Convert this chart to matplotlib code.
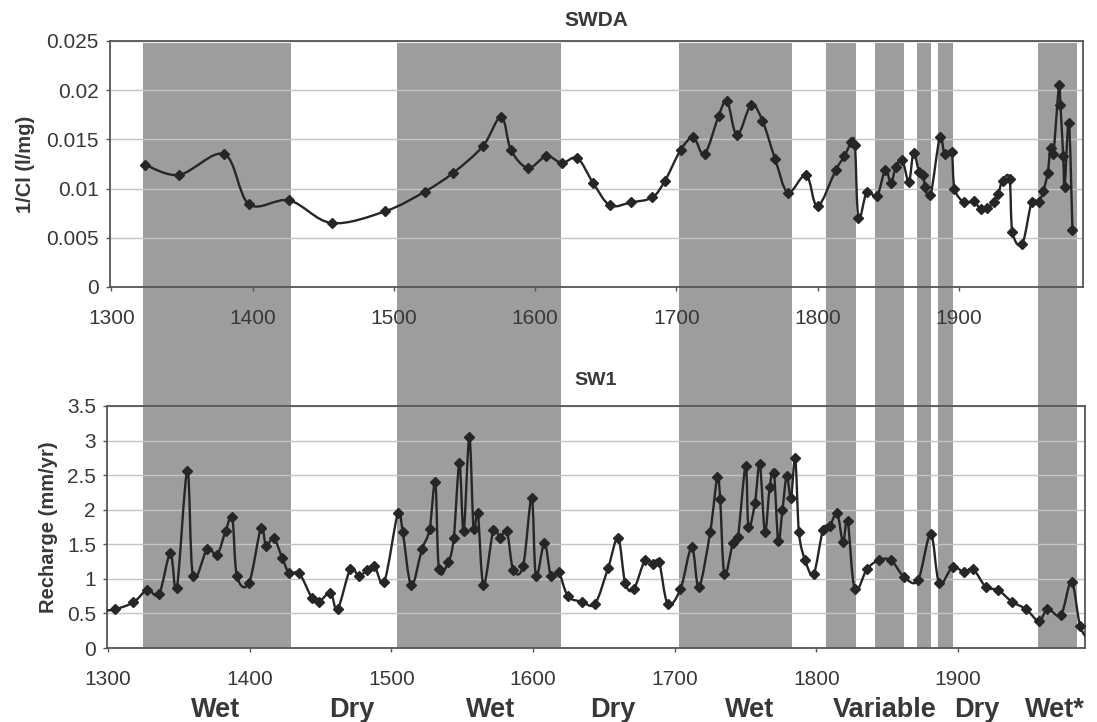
import numpy as np
import matplotlib
matplotlib.use("Agg")
import matplotlib.pyplot as plt
from matplotlib.path import Path
from matplotlib.patches import PathPatch, Rectangle
from matplotlib.transforms import blended_transform_factory
from matplotlib.ticker import FuncFormatter

plt.rcParams["font.family"] = ["Liberation Sans", "DejaVu Sans"]

# ------------------------------------------------------------------
# data
swda_year = [1324, 1348, 1380, 1397.5, 1426, 1456, 1494, 1522, 1542, 1563,
             1576, 1583, 1595, 1608, 1619, 1630, 1641, 1653, 1668, 1683,
             1692, 1703, 1712, 1720, 1730, 1736, 1743, 1753, 1761, 1770,
             1779, 1792, 1800, 1813, 1819, 1824, 1826.5, 1829, 1835, 1842,
             1848, 1852, 1855.5, 1860, 1864.7, 1868, 1872, 1875, 1876, 1880,
             1886.6, 1890, 1895, 1897, 1904, 1910.6, 1915.6, 1920, 1924.7, 1928,
             1931, 1936, 1938, 1945, 1951.6, 1956.5, 1960, 1963, 1965, 1967,
             1971, 1972, 1974, 1975, 1978, 1980.5]
swda_invcl = [0.0124, 0.0114, 0.0135, 0.0084, 0.0088, 0.0065, 0.0077, 0.0097, 0.0116, 0.0143,
              0.0173, 0.0139, 0.0121, 0.0133, 0.0126, 0.0131, 0.0106, 0.0083, 0.0086, 0.0091,
              0.0108, 0.0139, 0.0152, 0.0135, 0.0174, 0.0189, 0.0154, 0.0185, 0.0169, 0.0130,
              0.0096, 0.0114, 0.0082, 0.0119, 0.0133, 0.0147, 0.0144, 0.0070, 0.0097, 0.0092,
              0.0119, 0.0106, 0.0122, 0.0129, 0.0107, 0.0136, 0.0117, 0.0114, 0.0102, 0.0093,
              0.0152, 0.0135, 0.0137, 0.0100, 0.0086, 0.0087, 0.0079, 0.0080, 0.0086, 0.0095,
              0.0108, 0.0110, 0.0056, 0.0044, 0.0086, 0.0086, 0.0098, 0.0116, 0.0141, 0.0135,
              0.0205, 0.0185, 0.0133, 0.0102, 0.0167, 0.0058]

sw1_year = [1297, 1305, 1318, 1327.6, 1336, 1344, 1348.6, 1356, 1360, 1370,
            1377, 1383, 1387.7, 1391, 1399.5, 1408, 1411.5, 1417, 1423, 1428,
            1435, 1444, 1449, 1457, 1462, 1471, 1477, 1483, 1488, 1495,
            1504.6, 1508, 1514, 1521.6, 1527, 1531, 1533.6, 1540, 1544, 1548,
            1551, 1555, 1558, 1561, 1565, 1572, 1576.6, 1581.5, 1586, 1593,
            1599, 1602, 1608, 1612.6, 1618, 1624.6, 1634.5, 1643.7, 1653, 1660,
            1665, 1671, 1679, 1684.6, 1689, 1695, 1704, 1712, 1717, 1725,
            1730, 1732, 1735, 1741, 1744.6, 1750, 1752, 1756.6, 1760, 1763.6,
            1767, 1770, 1773, 1776, 1779, 1782, 1785, 1787.6, 1792, 1798,
            1804.6, 1809.5, 1814.6, 1818.7, 1822, 1827, 1835.6, 1844, 1852.6, 1861.7,
            1871.6, 1880.6, 1886.6, 1896, 1904, 1910.6, 1919.6, 1928, 1938, 1948,
            1957, 1963, 1972.5, 1980, 1986, 1992]
sw1_recharge = [0.54, 0.56, 0.66, 0.84, 0.78, 1.37, 0.87, 2.56, 1.04, 1.43,
                1.35, 1.69, 1.89, 1.04, 0.94, 1.74, 1.48, 1.59, 1.30, 1.08,
                1.08, 0.72, 0.67, 0.80, 0.56, 1.14, 1.04, 1.13, 1.19, 0.96,
                1.95, 1.68, 0.91, 1.43, 1.72, 2.40, 1.14, 1.24, 1.59, 2.67,
                1.69, 3.05, 1.72, 1.95, 0.91, 1.71, 1.59, 1.69, 1.13, 1.19,
                2.17, 1.04, 1.52, 1.04, 1.10, 0.75, 0.67, 0.64, 1.16, 1.59,
                0.94, 0.85, 1.27, 1.22, 1.24, 0.64, 0.85, 1.46, 0.88, 1.68,
                2.47, 2.16, 1.07, 1.52, 1.61, 2.63, 1.75, 2.10, 2.66, 1.68,
                2.33, 2.53, 1.55, 2.00, 2.49, 2.17, 2.75, 1.68, 1.27, 1.07,
                1.71, 1.77, 1.95, 1.53, 1.84, 0.85, 1.14, 1.27, 1.27, 1.03,
                0.98, 1.65, 0.94, 1.17, 1.10, 1.14, 0.88, 0.84, 0.67, 0.56,
                0.39, 0.56, 0.48, 0.96, 0.32, 0.12]

# shaded periods (start year, end year)
band_start = [1325, 1504, 1703, 1807, 1841, 1871, 1886, 1956]
band_end = [1429, 1620, 1783, 1828, 1862, 1881, 1896, 1984]

period_labels = ["Wet", "Dry", "Wet", "Dry", "Wet", "Variable", "Dry", "Wet*"]
period_centre = [1376, 1472, 1570, 1656, 1752.5, 1848, 1913, 1968]

# ------------------------------------------------------------------
def smooth_path(xs, ys):
    """Catmull-Rom style bezier path through the points (like Excel smoothing)"""
    p = np.column_stack([xs, ys]).astype(float)
    n = len(p)
    verts = [p[0]]
    codes = [Path.MOVETO]
    for i in range(n - 1):
        p0 = p[i - 1] if i > 0 else p[i]
        p3 = p[i + 2] if i + 2 < n else p[i + 1]
        c1 = p[i] + (p[i + 1] - p0) / 6.0
        c2 = p[i + 1] - (p3 - p[i]) / 6.0
        verts += [c1, c2, p[i + 1]]
        codes += [Path.CURVE4] * 3
    return Path(verts, codes)


line_col = "#262626"
txt_col = "#383838"
band_col = "#9d9d9d"

fig = plt.figure(figsize=(10.97, 7.22), dpi=100)
ax1 = fig.add_axes([110 / 1097, 1 - 287 / 722, 973 / 1097, 246 / 722])
ax2 = fig.add_axes([107 / 1097, 1 - 648 / 722, 978 / 1097, 242 / 722])

for ax in (ax1, ax2):
    ax.set_facecolor("none")
    for s in ax.spines.values():
        s.set_color("#555555")
        s.set_linewidth(1.3)
    ax.tick_params(axis="both", colors="#555555", labelcolor=txt_col,
                   labelsize=15, length=3, width=1)
    ax.tick_params(axis="x", pad=13)
    ax.tick_params(axis="y", pad=5)
    ax.set_xticks(np.arange(1300, 1901, 100))
    ax.yaxis.grid(True, color="#c4c4c4", lw=1.0)
    ax.set_axisbelow(True)

# shaded bands running through both panels
trans = blended_transform_factory(ax2.transData, fig.transFigure)
y0 = 1 - 648 / 722
y1 = 1 - 43 / 722
for a, b in zip(band_start, band_end):
    fig.add_artist(Rectangle((a, y0), b - a, y1 - y0, transform=trans,
                             facecolor=band_col, edgecolor="none", zorder=-1))

# top panel
ax1.set_xlim(1299, 1988)
ax1.set_ylim(0, 0.025)
ax1.set_yticks(np.arange(0, 0.0251, 0.005))
ax1.yaxis.set_major_formatter(FuncFormatter(lambda v, p: "%g" % round(v, 4)))
ax1.add_patch(PathPatch(smooth_path(swda_year, swda_invcl), fill=False,
                        edgecolor=line_col, lw=1.7, zorder=3))
ax1.plot(swda_year, swda_invcl, linestyle="none", marker="D", ms=5.5,
         color=line_col, zorder=4)
ax1.set_ylabel("1/Cl (l/mg)", fontsize=14.5, fontweight="bold", color=txt_col,
               labelpad=8)
ax1.set_title("SWDA", fontsize=15, fontweight="bold", color=txt_col, pad=11)

# bottom panel
ax2.set_xlim(1299.3, 1989.5)
ax2.set_ylim(0, 3.5)
ax2.set_yticks(np.arange(0, 3.51, 0.5))
ax2.yaxis.set_major_formatter(FuncFormatter(lambda v, p: "%g" % v))
ax2.add_patch(PathPatch(smooth_path(sw1_year, sw1_recharge), fill=False,
                        edgecolor=line_col, lw=1.7, zorder=3))
ax2.plot(sw1_year[1:-1], sw1_recharge[1:-1], linestyle="none", marker="D",
         ms=5.5, color=line_col, zorder=4)
ax2.set_ylabel("Recharge (mm/yr)", fontsize=14.5, fontweight="bold",
               color=txt_col, labelpad=6)
ax2.set_title("SW1", fontsize=14, fontweight="bold", color=txt_col, pad=15)

# period labels under the x axis
for lab, xc in zip(period_labels, period_centre):
    fig.text(xc, 1 - 717 / 722, lab, transform=trans, ha="center",
             va="baseline", fontsize=19.5, fontweight="bold", color=txt_col)

fig.savefig("out.png", dpi=100)
